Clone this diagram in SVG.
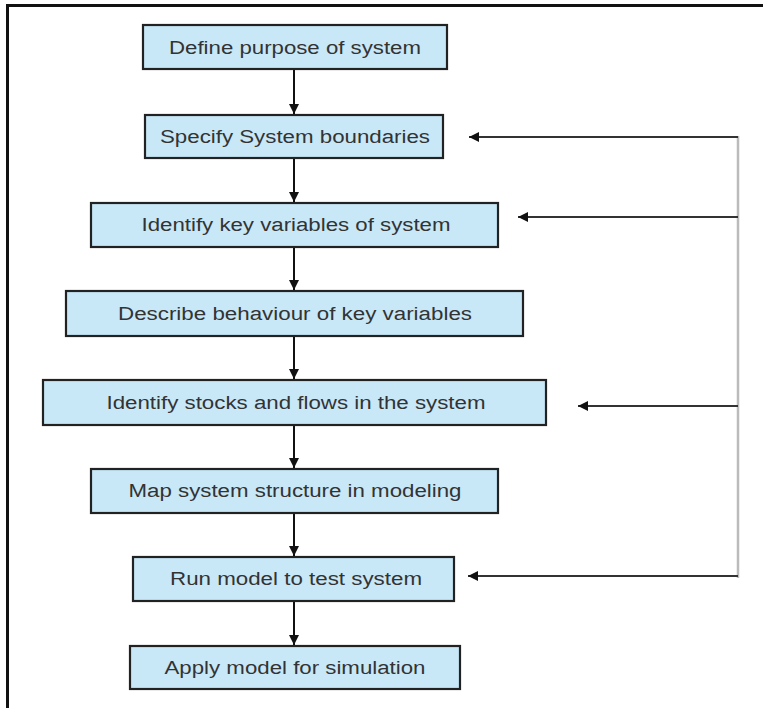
<svg xmlns="http://www.w3.org/2000/svg" width="763" height="708" viewBox="0 0 763 708">
<defs>
<style>
.box{fill:#c8e8f8;stroke:#222;stroke-width:2.2}
.lbl{font-family:"Liberation Sans",Arial,sans-serif;font-size:18px;fill:#333;text-anchor:middle}
.flow{stroke:#111;stroke-width:2;fill:none}
.fb{stroke:#333;stroke-width:2;fill:none}
.fbv{stroke:#bbb;stroke-width:2.5;fill:none}
</style>
<marker id="ah" viewBox="0 0 10 10" refX="10" refY="5" markerWidth="5" markerHeight="5" orient="auto" markerUnits="strokeWidth">
<path d="M0,0 L10,5 L0,10 z" fill="#111"/>
</marker>
</defs>
<rect width="763" height="708" fill="#fff"/>
<path d="M7.5,708 V5.5 H763" stroke="#111" stroke-width="3" fill="none"/>
<g id="n1"><rect class="box" x="143" y="25" width="304" height="44"/><text class="lbl" x="295" y="53.5" textLength="252" lengthAdjust="spacingAndGlyphs">Define purpose of system</text></g>
<g id="n2"><rect class="box" x="145" y="115" width="298" height="43"/><text class="lbl" x="295" y="143" textLength="270" lengthAdjust="spacingAndGlyphs">Specify System boundaries</text></g>
<g id="n3"><rect class="box" x="91" y="203" width="407" height="44"/><text class="lbl" x="296" y="231" textLength="309" lengthAdjust="spacingAndGlyphs">Identify key variables of system</text></g>
<g id="n4"><rect class="box" x="66" y="291" width="457" height="45"/><text class="lbl" x="295" y="319.5" textLength="354" lengthAdjust="spacingAndGlyphs">Describe behaviour of key variables</text></g>
<g id="n5"><rect class="box" x="43" y="380" width="503" height="45"/><text class="lbl" x="296" y="408.5" textLength="379" lengthAdjust="spacingAndGlyphs">Identify stocks and flows in the system</text></g>
<g id="n6"><rect class="box" x="91" y="469" width="407" height="44"/><text class="lbl" x="295" y="497" textLength="333" lengthAdjust="spacingAndGlyphs">Map system structure in modeling</text></g>
<g id="n7"><rect class="box" x="133" y="557" width="321" height="44"/><text class="lbl" x="296" y="585" textLength="252" lengthAdjust="spacingAndGlyphs">Run model to test system</text></g>
<g id="n8"><rect class="box" x="130" y="646" width="330" height="43"/><text class="lbl" x="295" y="674" textLength="261" lengthAdjust="spacingAndGlyphs">Apply model for simulation</text></g>
<g id="connectors">
<path class="flow" marker-end="url(#ah)" d="M294,70 V114"/>
<path class="flow" marker-end="url(#ah)" d="M294,159 V202"/>
<path class="flow" marker-end="url(#ah)" d="M294,248 V290"/>
<path class="flow" marker-end="url(#ah)" d="M294,337 V379"/>
<path class="flow" marker-end="url(#ah)" d="M294,426 V468"/>
<path class="flow" marker-end="url(#ah)" d="M294,514 V556"/>
<path class="flow" marker-end="url(#ah)" d="M294,602 V645"/>
<path class="fbv" d="M738,136 V578"/>
<path class="fb" marker-end="url(#ah)" d="M738,137 H469"/>
<path class="fb" marker-end="url(#ah)" d="M738,217 H518"/>
<path class="fb" marker-end="url(#ah)" d="M738,406 H578"/>
<path class="fb" marker-end="url(#ah)" d="M738,576 H468"/>
</g>
</svg>
